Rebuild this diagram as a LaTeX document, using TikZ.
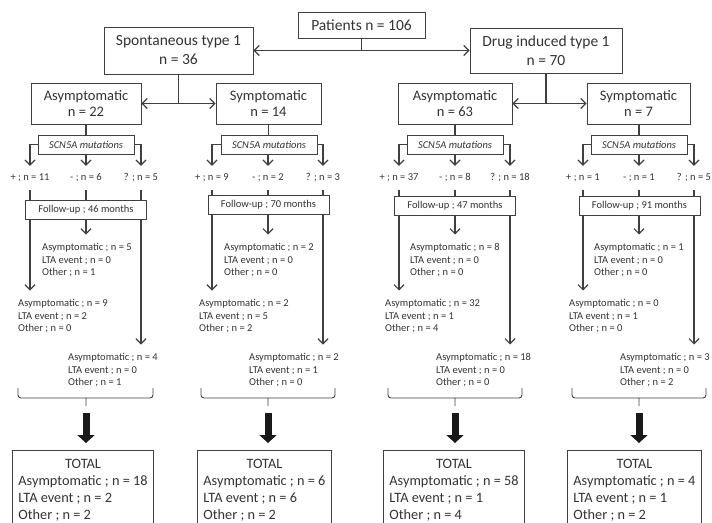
\documentclass[tikz,border=0pt]{standalone}
\usepackage{fontspec}
\setmainfont{Carlito}
\usetikzlibrary{arrows.meta,backgrounds}

\tikzset{
  box/.style={draw=black!75, line width=0.9pt, fill=white, align=center, inner sep=0pt, text=black!80},
  bigbox/.style={box, font=\fontsize{15.5}{19}\selectfont},
  groupbox/.style={box, font=\fontsize{14.5}{15.5}\selectfont, minimum height=41pt},
  mutbox/.style={box, font=\fontsize{10.5}{12}\selectfont\itshape, minimum width=96pt, minimum height=19pt},
  fubox/.style={box, font=\fontsize{10.5}{12}\selectfont, minimum width=121pt, minimum height=19pt},
  count/.style={inner sep=0pt, minimum height=24pt, text=black!80, font=\fontsize{10.5}{12}\selectfont},
  outcome/.style={anchor=north west, align=left, inner xsep=0pt, inner ysep=9pt, text=black!80, font=\fontsize{10.5}{12.2}\selectfont},
  totbox/.style={draw=black!75, line width=0.9pt, anchor=north west, inner xsep=6pt, inner ysep=5.7pt, text depth=80pt, text=black!80, font=\fontsize{14.3}{17}\selectfont},
  link/.style={draw=black!75, line width=1.2pt},
  arrowline/.style={link, -{Straight Barb[length=5pt,width=10pt]}},
  twoway/.style={link, {Straight Barb[length=5pt,width=10pt]}-{Straight Barb[length=5pt,width=10pt]}},
  fat/.style={line width=7pt, black!90, -{Triangle[length=8pt,width=17pt]}, shorten <=7pt, shorten >=7pt},
  bracket/.style={draw=black!75, line width=0.9pt, rounded corners=3pt}
}

\begin{document}
\begin{tikzpicture}[x=1pt,y=-1pt]
\useasboundingbox (0,0) rectangle (712,522);

% patients and the two groups
\node[bigbox, minimum width=127pt, minimum height=26pt] (pat) at (361.5,25) {Patients n = 106};
\node[bigbox, minimum width=149pt, minimum height=47pt] (spont) at (178.5,50.5) {Spontaneous type 1\\n = 36};
\node[bigbox, minimum width=152pt, minimum height=45pt] (drug) at (546,50.5) {Drug induced type 1\\n = 70};
\draw[link] (pat.south) -- (pat.south |- spont.east);
\draw[twoway] (spont.east) -- (drug.west);

\node[groupbox, minimum width=110pt] (sa) at (86,103.5) {Asymptomatic\\n = 22};
\node[groupbox, minimum width=105pt] (ss) at (268.5,103.5) {Symptomatic\\n = 14};
\node[groupbox, minimum width=114pt] (da) at (455,103.5) {Asymptomatic\\n = 63};
\node[groupbox, minimum width=103pt] (ds) at (638.5,103.5) {Symptomatic\\n = 7};
\draw[link] (spont.south) -- (spont.south |- sa.east);
\draw[twoway] (sa.east) -- (ss.west);
\draw[link] (drug.south) -- (drug.south |- da.east);
\draw[twoway] (da.east) -- (ds.west);

% spontaneous, asymptomatic
\node[mutbox] (sa-mut) at (86,144.5) {SCN5A mutations};
\node[count] (sa-pos) at (30,178) {+ ; n = 11};
\node[count] (sa-neg) at (86,178) {- ; n = 6};
\node[count] (sa-unk) at (141,178) {? ; n = 5};
\node[fubox] (sa-fu) at (86,209.5) {Follow-up ; 46 months};
\node[outcome] (sa-omid) at (42,234.5) {Asymptomatic ; n = 5\\LTA event ; n = 0\\Other ; n = 1};
\node[outcome] (sa-opos) at (18,290.5) {Asymptomatic ; n = 9\\LTA event ; n = 2\\Other ; n = 0};
\node[outcome] (sa-ounk) at (68,344.5) {Asymptomatic ; n = 4\\LTA event ; n = 0\\Other ; n = 1};
\node[totbox] (sa-tot) at (12,450) {\begin{tabular}[t]{@{}l@{}}\multicolumn{1}{c}{TOTAL}\\Asymptomatic ; n = 18\\LTA event ; n = 2\\Other ; n = 2\end{tabular}};
\draw[link] (sa.south) -- (sa-mut.north);
\draw[arrowline] (sa-mut.west) -| (sa-pos.north);
\draw[arrowline] (sa-mut.south) -- (sa-neg.north);
\draw[arrowline] (sa-mut.east) -| (sa-unk.north);
\draw[link] (sa-neg.south) -- (sa-fu.north);
\draw[arrowline] (sa-fu.south) -- (sa-fu.south |- sa-omid.north);
\begin{scope}[on background layer]
\draw[arrowline] (sa-pos.south) -- (sa-pos.south |- sa-opos.north);
\draw[arrowline] (sa-unk.south) -- (sa-unk.south |- sa-ounk.north);
\end{scope}
\draw[bracket] (18,388) |- (86,398) -| (153,388) (86,398) -- (86,406) coordinate (sa-tip);
\draw[fat] (sa-tip) -- (sa-tip |- sa-tot.north);

% spontaneous, symptomatic
\node[mutbox] (ss-mut) at (269,144.5) {SCN5A mutations};
\node[count] (ss-pos) at (212,178) {+ ; n = 9};
\node[count] (ss-neg) at (268,178) {- ; n = 2};
\node[count] (ss-unk) at (323,178) {? ; n = 3};
\node[fubox] (ss-fu) at (268.5,205) {Follow-up ; 70 months};
\node[outcome] (ss-omid) at (224,234.5) {Asymptomatic ; n = 2\\LTA event ; n = 0\\Other ; n = 0};
\node[outcome] (ss-opos) at (199,290.5) {Asymptomatic ; n = 2\\LTA event ; n = 5\\Other ; n = 2};
\node[outcome] (ss-ounk) at (249,344.5) {Asymptomatic ; n = 2\\LTA event ; n = 1\\Other ; n = 0};
\node[totbox] (ss-tot) at (197,450) {\begin{tabular}[t]{@{}l@{}}\multicolumn{1}{c}{TOTAL}\\Asymptomatic ; n = 6\\LTA event ; n = 6\\Other ; n = 2\end{tabular}};
\draw[link] (ss.south) -- (ss-mut.north -| ss.south);
\draw[arrowline] (ss-mut.west) -| (ss-pos.north);
\draw[arrowline] (ss-mut.south -| ss-neg) -- (ss-neg.north);
\draw[arrowline] (ss-mut.east) -| (ss-unk.north);
\draw[link] (ss-neg.south) -- (ss-fu.north -| ss-neg);
\draw[arrowline] (ss-fu.south -| ss-neg) -- (ss-neg |- ss-omid.north);
\begin{scope}[on background layer]
\draw[arrowline] (ss-pos.south) -- (ss-pos.south |- ss-opos.north);
\draw[arrowline] (ss-unk.south) -- (ss-unk.south |- ss-ounk.north);
\end{scope}
\draw[bracket] (201,388) |- (268,398) -| (335,388) (268,398) -- (268,406) coordinate (ss-tip);
\draw[fat] (ss-tip) -- (ss-tip |- ss-tot.north);

% drug induced, asymptomatic
\node[mutbox] (da-mut) at (455,144.5) {SCN5A mutations};
\node[count] (da-pos) at (399,178) {+ ; n = 37};
\node[count] (da-neg) at (455,178) {- ; n = 8};
\node[count] (da-unk) at (510,178) {? ; n = 18};
\node[fubox] (da-fu) at (455,206) {Follow-up ; 47 months};
\node[outcome] (da-omid) at (410,234.5) {Asymptomatic ; n = 8\\LTA event ; n = 0\\Other ; n = 0};
\node[outcome] (da-opos) at (385,290.5) {Asymptomatic ; n = 32\\LTA event ; n = 1\\Other ; n = 4};
\node[outcome] (da-ounk) at (436,344.5) {Asymptomatic ; n = 18\\LTA event ; n = 0\\Other ; n = 0};
\node[totbox] (da-tot) at (383,450) {\begin{tabular}[t]{@{}l@{}}\multicolumn{1}{c}{TOTAL}\\Asymptomatic ; n = 58\\LTA event ; n = 1\\Other ; n = 4\end{tabular}};
\draw[link] (da.south) -- (da-mut.north);
\draw[arrowline] (da-mut.west) -| (da-pos.north);
\draw[arrowline] (da-mut.south) -- (da-neg.north);
\draw[arrowline] (da-mut.east) -| (da-unk.north);
\draw[link] (da-neg.south) -- (da-fu.north);
\draw[arrowline] (da-fu.south) -- (da-fu.south |- da-omid.north);
\begin{scope}[on background layer]
\draw[arrowline] (da-pos.south) -- (da-pos.south |- da-opos.north);
\draw[arrowline] (da-unk.south) -- (da-unk.south |- da-ounk.north);
\end{scope}
\draw[bracket] (388,388) |- (455,398) -| (522,388) (455,398) -- (455,406) coordinate (da-tip);
\draw[fat] (da-tip) -- (da-tip |- da-tot.north);

% drug induced, symptomatic
\node[mutbox] (ds-mut) at (639,144.5) {SCN5A mutations};
\node[count] (ds-pos) at (583,178) {+ ; n = 1};
\node[count] (ds-neg) at (639,178) {- ; n = 1};
\node[count] (ds-unk) at (694,178) {? ; n = 5};
\node[fubox] (ds-fu) at (639.5,206) {Follow-up ; 91 months};
\node[outcome] (ds-omid) at (594,234.5) {Asymptomatic ; n = 1\\LTA event ; n = 0\\Other ; n = 0};
\node[outcome] (ds-opos) at (569,290.5) {Asymptomatic ; n = 0\\LTA event ; n = 1\\Other ; n = 0};
\node[outcome] (ds-ounk) at (620,344.5) {Asymptomatic ; n = 3\\LTA event ; n = 0\\Other ; n = 2};
\node[totbox] (ds-tot) at (567,450) {\begin{tabular}[t]{@{}l@{}}\multicolumn{1}{c}{TOTAL}\\Asymptomatic ; n = 4\\LTA event ; n = 1\\Other ; n = 2\end{tabular}};
\draw[link] (ds.south -| ds-mut) -- (ds-mut.north);
\draw[arrowline] (ds-mut.west) -| (ds-pos.north);
\draw[arrowline] (ds-mut.south) -- (ds-neg.north);
\draw[arrowline] (ds-mut.east) -| (ds-unk.north);
\draw[link] (ds-neg.south) -- (ds-fu.north -| ds-neg);
\draw[arrowline] (ds-fu.south -| ds-neg) -- (ds-neg |- ds-omid.north);
\begin{scope}[on background layer]
\draw[arrowline] (ds-pos.south) -- (ds-pos.south |- ds-opos.north);
\draw[arrowline] (ds-unk.south) -- (ds-unk.south |- ds-ounk.north);
\end{scope}
\draw[bracket] (572,388) |- (639,398) -| (706,388) (639,398) -- (639,406) coordinate (ds-tip);
\draw[fat] (ds-tip) -- (ds-tip |- ds-tot.north);
\end{tikzpicture}
\end{document}
